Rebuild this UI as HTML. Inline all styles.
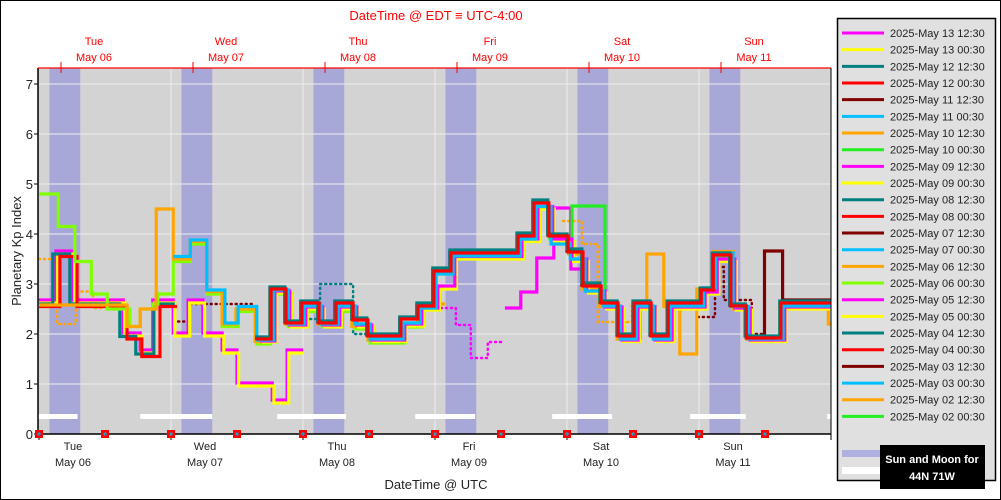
<!DOCTYPE html>
<html><head><meta charset="utf-8"><style>
html,body{margin:0;padding:0;background:#fff}
svg{display:block;font-family:"Liberation Sans","DejaVu Sans",sans-serif}
</style></head><body>
<svg id="c" width="1001" height="500" viewBox="0 0 1001 500"></svg>
<script>
// ---- data (hours since 2025-05-06 00:00 UTC, Kp values) ----
const yTicks=[0,1,2,3,4,5,6,7];
const dayNames=["Tue","Wed","Thu","Fri","Sat","Sun"];
const dayDates=["May 06","May 07","May 08","May 09","May 10","May 11"];
const legendLabels=["2025-May 13 12:30","2025-May 13 00:30","2025-May 12 12:30","2025-May 12 00:30","2025-May 11 12:30","2025-May 11 00:30","2025-May 10 12:30","2025-May 10 00:30","2025-May 09 12:30","2025-May 09 00:30","2025-May 08 12:30","2025-May 08 00:30","2025-May 07 12:30","2025-May 07 00:30","2025-May 06 12:30","2025-May 06 00:30","2025-May 05 12:30","2025-May 05 00:30","2025-May 04 12:30","2025-May 04 00:30","2025-May 03 12:30","2025-May 03 00:30","2025-May 02 12:30","2025-May 02 00:30"];
const legendColors=["#ff00ff","#ffff00","#008080","#ff0000","#800000","#00bfff","#ffa500","#22ee22","#ff00ff","#ffff00","#008080","#ff0000","#800000","#00bfff","#ffa500","#7fff00","#ff00ff","#ffff00","#008080","#ff0000","#800000","#00bfff","#ffa500","#22ee22"];
const nightStart=[1.9,25.9,49.9,73.9,97.9,121.9];
const nightEnd=[7.5,31.5,55.5,79.5,103.5,127.5];
const moonStart=[-1,18.4,43.3,68.4,93.3,118.4,143.3];
const moonEnd=[7,31.5,55.8,79.3,104.2,128.5,144];

// main late cluster break times (hours)
const tMain=[39.3,42,44.7,47.6,50.7,53.8,56.9,59.6,65.6,68.7,71.6,74.7,86.9,89.8,92.5,96,98.7,102,105.1,108,111.1,114.2,120.2,122.4,125.6,128.4,134.7,144];
const vMaroon=[1.92,2.92,2.24,2.64,2.24,2.64,2.3,1.98,2.32,2.58,3.28,3.64,3.98,4.64,3.98,3.66,2.98,2.64,1.98,2.64,1.98,2.64,2.9,3.6,2.58,1.94,2.64];
const vRed=[1.9,2.9,2.22,2.62,2.22,2.62,2.28,1.96,2.3,2.56,3.26,3.62,3.96,4.62,3.96,3.64,2.96,2.62,1.96,2.62,1.96,2.62,2.88,3.58,2.56,1.92,2.62];
const vTeal=[1.94,2.94,2.26,2.66,2.26,2.66,2.32,2.0,2.34,2.62,3.32,3.68,4.02,4.68,4.0,3.7,3.02,2.66,2.0,2.66,2.0,2.66,2.92,3.62,2.6,1.96,2.66];
const vSky=[1.88,2.88,2.2,2.56,2.2,2.56,2.2,1.9,2.22,2.52,3.2,3.56,3.9,4.55,3.8,3.5,2.86,2.56,1.9,2.56,1.9,2.56,2.92,3.62,2.55,1.9,2.56];
const vYellow=[1.84,2.82,2.14,2.5,2.14,2.5,2.14,1.85,2.16,2.48,2.9,3.5,3.85,4.5,3.85,3.45,2.82,2.5,1.85,2.5,1.85,2.5,2.8,3.45,2.48,1.85,2.5];
const vMagenta=[1.86,2.86,2.18,2.54,2.18,2.54,2.18,1.88,2.2,2.52,2.96,3.55,3.9,4.55,3.9,3.5,2.86,2.54,1.88,2.54,1.88,2.54,2.84,3.5,2.52,1.88,2.54];
const tMaroonTail=[128.4,131.9,135.2,144];
const vMaroonTail=[1.94,3.66,2.68];

const tEarlyRed=[0,3.8,6.9,16,18.7,22,25.1];
const vEarlyRed=[2.55,3.55,2.55,1.9,1.55,2.55];
const tEarlyTeal=[0,2.5,5.6,14.7,17.6,20.9,24.7];
const vEarlyTeal=[2.6,3.6,2.6,1.95,1.6,2.6];
const tEarlyMag=[0,3.1,6.2,15.3,18.4,20.7,24.4,27.1,29.8,33.3,36,42.4,45.1,48];
const vEarlyMag=[2.68,3.66,2.68,2.02,1.68,2.68,2.02,2.68,2.02,1.68,1.02,0.68,1.68];
const tEarlyYel=[0,3.4,6.5,15.6,18.7,21,24.7,27.4,30.1,33.6,36.3,42.7,45.4,48];
const vEarlyYel=[2.62,3.6,2.62,1.96,1.62,2.62,1.96,2.62,1.96,1.62,0.96,0.62,1.62];
const tLime6=[0,3.5,6.5,9.5,12.4,16.5,18.4,20.7,21.6,24.4,27.5,30.5,33.3,36.2,39.6,42,45.3,48.4,51.5,54.4,57.5,60.2,66.5,69.6,72.9];
const vLime6=[4.8,4.15,3.45,2.8,2.5,2.15,2.5,2.6,2.8,3.45,3.8,2.8,2.15,2.45,1.8,2.8,2.15,2.45,2.15,2.45,2.1,1.82,2.14,2.48];
const tOrange6=[0,16,18.4,21.3,24.4,27.5,30.5,33.3,35.8,39.3,42,44.7,47.8,50.7,53.8,56.9,59.8,65.6,68.7,71.6,73.8];
const vOrange6=[2.58,2.15,2.5,4.5,3.5,3.85,2.85,2.2,2.5,1.85,2.85,2.2,2.52,2.2,2.52,2.15,1.88,2.2,2.52,2.6];
const tSky7=[24.4,27.5,30.5,33.8,36.2,39.6,42.4,45.3,48.4,51.5,54.4,57.5,60.2,66.5,69.6,72.9];
const vSky7=[3.55,3.88,2.88,2.22,2.55,1.88,2.88,2.22,2.55,2.22,2.55,2.2,1.9,2.22,2.55];
const tLime10=[74.7,86.9,90.2,92.9,96.9,102.9,106,109.3,112,115.1,120.2,122.4,125.8,128.7,135.1,144];
const vLime10=[3.55,3.9,4.55,3.9,4.56,2.54,1.92,2.55,1.92,2.55,2.85,3.55,2.55,1.9,2.55];
const tOrange10=[96,98.7,102,105.1,108,110.5,113.6,116.5,119.6,122.5,126.2,128.7,134.7,143.5,144];
const vOrange10=[3.6,2.9,2.55,1.9,2.55,3.6,2.55,1.6,2.9,3.65,2.5,1.9,2.6,2.2];
const tMag9=[73.1,75.8,78.5,81.6,84.7,87.6,90.5,93.6,96.7,99.8];
const vMag9=[2.52,2.18,1.52,1.84,2.52,2.84,3.52,4.52,3.3];
const tMag9Dot=[73.1,75.8,78.5,81.6,84.7];
const vMag9Dot=[2.52,2.18,1.52,1.84];
const tOrDotEarly=[0,3.3,6.7,9.8,12];
const vOrDotEarly=[3.5,2.2,2.85,2.52];
const tOrDotLate=[95.3,98.7,101.6,107.8,109.3];
const vOrDotLate=[4.26,3.8,2.24,2.6];
const tTealDot=[48.4,51.1,57.1,59.6];
const vTealDot=[2.3,3.0,2.0];
const tMarDotEarly=[24.4,27.1,39.3];
const vMarDotEarly=[2.25,2.6];
const tMarDotLate=[119.8,122.9,124.5,127.1,129.6,132];
const vMarDotLate=[2.34,3.34,2.68,2.68,2.0];

// ---- axes ----
const X0=39,PXH=5.5,Y0=434,PXV=50,XR=831,YT=68;
const xs=h=>X0+h*PXH, ys=v=>Y0-v*PXV;
const NS="http://www.w3.org/2000/svg";
const svg=document.getElementById('c');
function mk(tag,attrs,parent){const e=document.createElementNS(NS,tag);for(const k in attrs)e.setAttribute(k,attrs[k]);(parent||svg).appendChild(e);return e;}

mk('rect',{x:0.5,y:0.5,width:1000,height:499,fill:'#fff',stroke:'#000'});
const plot=mk('rect',{x:X0-1,y:YT,width:XR-X0+1,height:Y0-YT,fill:'#d3d3d3'});


for(let i=0;i<nightStart.length;i++){
  const r=mk('rect',{x:xs(nightStart[i]),y:YT,width:xs(nightEnd[i])-xs(nightStart[i]),height:Y0-YT,fill:'#a8a8d8'});
  
  
}
for(const v of yTicks){
  const g=mk('line',{x1:X0-1,x2:XR,y1:ys(v),y2:ys(v),stroke:'#eee','stroke-width':1});
  
  
  const t=mk('text',{x:33,y:ys(v)+5,'text-anchor':'end','font-size':13,fill:'#222'});t.textContent=v;
  
  
  mk('line',{x1:34,x2:38,y1:ys(v),y2:ys(v),stroke:'#000'});
}
for(let d=1;d<6;d++){
  const g=mk('line',{x1:xs(d*24),x2:xs(d*24),y1:YT,y2:Y0,stroke:'#eee','stroke-width':1});
  
  
}
for(let i=0;i<moonStart.length;i++){
  const r=mk('rect',{x:Math.max(X0-1,xs(moonStart[i])),y:414,width:Math.min(XR,xs(moonEnd[i]))-Math.max(X0-1,xs(moonStart[i])),height:5,fill:'#fff'});
  
  
}

function stepPath(ts,vs){
  let d=`M${xs(ts[0]).toFixed(1)},${ys(vs[0]).toFixed(1)}`;
  for(let i=0;i<vs.length;i++){
    d+=`H${xs(ts[i+1]).toFixed(1)}`;
    if(i+1<vs.length)d+=`V${ys(vs[i+1]).toFixed(1)}`;
  }
  return d;
}
const series=[
 [tOrDotEarly,vOrDotEarly,'#ffa500',true,'series-may02-1230-early'],
 [tOrDotLate,vOrDotLate,'#ffa500',true,'series-may02-1230-late'],
 [tMarDotEarly,vMarDotEarly,'#800000',true,'series-may03-1230-early'],
 [tMarDotLate,vMarDotLate,'#800000',true,'series-may03-1230-late'],
 [tTealDot,vTealDot,'#008080',true,'series-may04-1230-dotted'],
 [tMag9Dot,vMag9Dot,'#ff00ff',true,'series-may05-1230-dotted'],
 [tEarlyMag,vEarlyMag,'#ff00ff',false,'series-may05-1230'],
 [tEarlyYel,vEarlyYel,'#ffff00',false,'series-may05-0030'],
 [tEarlyTeal,vEarlyTeal,'#008080',false,'series-may04-1230'],
 [tEarlyRed,vEarlyRed,'#ff0000',false,'series-may04-0030'],
 [tLime6,vLime6,'#7fff00',false,'series-may06-0030'],
 [tOrange6,vOrange6,'#ffa500',false,'series-may06-1230'],
 [tSky7,vSky7,'#00bfff',false,'series-may07-0030'],
 [tMag9.slice(4),vMag9.slice(4),'#ff00ff',false,'series-may09-1230'],
 [tLime10,vLime10,'#22ee22',false,'series-may10-0030'],
 [tOrange10,vOrange10,'#ffa500',false,'series-may10-1230'],
 [tMain.map(t=>t+1.2),vYellow,'#ffff00',false,'series-may13-0030'],
 [tMain.map(t=>t+0.9),vMagenta,'#ff00ff',false,'series-may13-1230'],
 [tMain.map(t=>t+0.6),vSky,'#00bfff',false,'series-may11-0030'],
 [tMain.slice(0,26).concat([128.4]),vMaroon.slice(0,26),'#800000',false,'series-may11-1230'],
 [tMaroonTail,vMaroonTail,'#800000',false,'series-may11-1230-tail'],
 [tMain,vTeal,'#008080',false,'series-may12-1230'],
 [tMain.map(t=>t+0.2),vRed,'#ff0000',false,'series-may12-0030'],
];
const sg=mk('g',{'clip-path':'url(#clip)'});
const cp=mk('clipPath',{id:'clip'});mk('rect',{x:X0-1,y:YT,width:XR-X0+1,height:Y0-YT},cp);
for(const [ts,vs,col,dot,name] of series){
  const p=mk('path',{d:stepPath(ts,vs),fill:'none',stroke:col,'stroke-width':dot?2.5:3.2,'stroke-dasharray':dot?'1,4':'none','stroke-linecap':dot?'round':'butt'},sg);
  
  
}
// axes
mk('line',{x1:38,x2:38,y1:YT,y2:Y0,stroke:'#000','stroke-width':1.5});
mk('line',{x1:38,x2:XR,y1:Y0,y2:Y0,stroke:'#000','stroke-width':1.5});
mk('line',{x1:38,x2:XR,y1:YT,y2:YT,stroke:'#ff0000','stroke-width':1.2});
mk('line',{x1:XR,x2:XR,y1:YT,y2:440,stroke:'#000'});
for(let d=0;d<6;d++){
  mk('line',{x1:xs(d*24),x2:xs(d*24),y1:Y0,y2:440,stroke:'#000'});
  const a=mk('text',{x:xs(d*24)+34,y:450,'text-anchor':'middle','font-size':11,fill:'#222'});a.textContent=dayNames[d];
  
  
  const b=mk('text',{x:xs(d*24)+34,y:466,'text-anchor':'middle','font-size':11,fill:'#222'});b.textContent=dayDates[d];
  
  
  mk('line',{x1:xs(d*24+4),x2:xs(d*24+4),y1:62,y2:73,stroke:'#ff0000'});
  const c=mk('text',{x:xs(d*24+4)+33,y:45,'text-anchor':'middle','font-size':11,fill:'#ff0000'});c.textContent=dayNames[d];
  
  
  const e=mk('text',{x:xs(d*24+4)+33,y:61,'text-anchor':'middle','font-size':11,fill:'#ff0000'});e.textContent=dayDates[d];
  
  
}
for(let k=0;k<13;k++){
  const h=k*12; if(xs(h)>XR-5)break;
  const m=mk('rect',{x:xs(h)-4,y:Y0-4,width:8,height:8,fill:'#ff0000'});
  
  
  mk('rect',{x:xs(h)-1.5,y:Y0-1.5,width:3,height:3,fill:'#1aa0d0'});
}
const t1=mk('text',{x:436,y:20,'text-anchor':'middle','font-size':13,fill:'#ff0000'});t1.textContent='DateTime @ EDT \u2261 UTC-4:00';


const t2=mk('text',{x:436,y:489,'text-anchor':'middle','font-size':13,fill:'#222'});t2.textContent='DateTime @ UTC';


const t3=mk('text',{x:21,y:251,'text-anchor':'middle','font-size':13,fill:'#222',transform:'rotate(-90 21 251)'});t3.textContent='Planetary Kp Index';


// legend
const lg=mk('g',{});


mk('rect',{x:837.5,y:18.5,width:158,height:462,fill:'#e0e0e0',stroke:'#000','stroke-width':1.5},lg);
for(let i=0;i<legendLabels.length;i++){
  const y=33+i*16.67;
  const sw=mk('line',{x1:842,x2:884,y1:y,y2:y,stroke:legendColors[i],'stroke-width':3},lg);
  
  
  const tx=mk('text',{x:890,y:y+4,'font-size':11,fill:'#222'},lg);tx.textContent=legendLabels[i];
  
  
}
mk('rect',{x:842,y:450,width:40,height:7,fill:'#b0b0e0'},lg);
mk('rect',{x:842,y:467,width:40,height:7,fill:'#fff'},lg);
const bx=mk('rect',{x:880,y:445,width:105,height:44,fill:'#000'},lg);


const s1=mk('text',{x:932,y:463,'text-anchor':'middle','font-size':11,'font-weight':'bold',fill:'#fff'},lg);s1.textContent='Sun and Moon for';


const s2=mk('text',{x:932,y:480,'text-anchor':'middle','font-size':11,'font-weight':'bold',fill:'#fff'},lg);s2.textContent='44N 71W';


</script>
</body></html>
